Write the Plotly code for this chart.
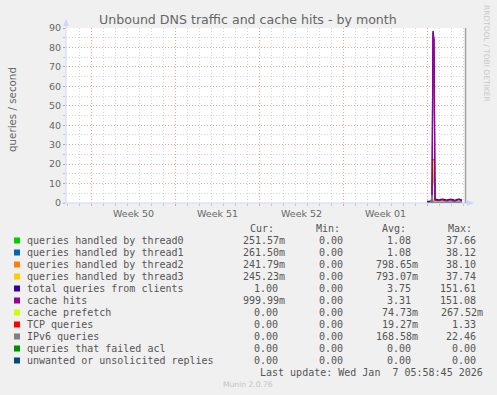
import plotly.graph_objects as go
import pandas as pd

# ---------------- data ----------------
TITLE = "Unbound DNS traffic and cache hits - by month"
Y_TITLE = "queries / second"

# 2-hour consolidated samples (Munin monthly view), Jan 4 00:00 .. Jan 6 22:00
times = pd.date_range("2026-01-04 00:00", periods=36, freq="2h")

thread0 = [0.20, 0.18, 0.20, 0.22, 0.25, 0.35, 22.3, 21.0, 0.48, 0.50, 0.45, 0.40,
           0.38, 0.42, 0.48, 0.52, 0.50, 0.45, 0.40, 0.38, 0.38, 0.42, 0.48, 0.52,
           0.50, 0.45, 0.40, 0.38, 0.35, 0.40, 0.45, 0.50, 0.52, 0.48, 0.40, 0.38]
thread1 = [0.21, 0.19, 0.21, 0.23, 0.26, 0.36, 22.5, 21.2, 0.49, 0.52, 0.46, 0.41,
           0.39, 0.44, 0.49, 0.54, 0.52, 0.46, 0.41, 0.39, 0.39, 0.44, 0.49, 0.54,
           0.52, 0.46, 0.41, 0.39, 0.36, 0.41, 0.46, 0.52, 0.54, 0.49, 0.41, 0.39]
thread2 = [0.19, 0.17, 0.19, 0.21, 0.24, 0.34, 22.0, 20.8, 0.46, 0.48, 0.44, 0.39,
           0.37, 0.41, 0.46, 0.50, 0.48, 0.44, 0.39, 0.37, 0.37, 0.41, 0.46, 0.50,
           0.48, 0.44, 0.39, 0.37, 0.34, 0.39, 0.44, 0.48, 0.50, 0.46, 0.39, 0.37]
thread3 = [0.20, 0.17, 0.20, 0.22, 0.24, 0.35, 21.7, 20.6, 0.47, 0.50, 0.45, 0.40,
           0.37, 0.42, 0.47, 0.53, 0.50, 0.45, 0.40, 0.37, 0.37, 0.42, 0.47, 0.53,
           0.50, 0.45, 0.40, 0.37, 0.35, 0.40, 0.45, 0.50, 0.53, 0.47, 0.40, 0.37]
total_queries = [0.8, 0.7, 0.8, 0.9, 1.0, 1.4, 88.5, 84.0, 1.9, 2.0, 1.8, 1.6,
                 1.5, 1.7, 1.9, 2.1, 2.0, 1.8, 1.6, 1.5, 1.5, 1.7, 1.9, 2.1,
                 2.0, 1.8, 1.6, 1.5, 1.4, 1.6, 1.8, 2.0, 2.1, 1.9, 1.6, 1.5]
cache_hits = [0.3, 0.2, 0.3, 0.4, 0.5, 0.9, 87.6, 83.5, 1.5, 1.6, 1.4, 1.2,
              1.1, 1.3, 1.5, 1.7, 1.6, 1.4, 1.2, 1.1, 1.1, 1.3, 1.5, 1.7,
              1.6, 1.4, 1.2, 1.1, 1.0, 1.2, 1.4, 1.6, 1.7, 1.5, 1.2, 1.1]
cache_prefetch = [0.0, 0.0, 0.0, 0.0, 0.02, 0.05, 0.25, 0.08, 0.06, 0.07, 0.06, 0.05,
                  0.05, 0.06, 0.07, 0.08, 0.07, 0.06, 0.05, 0.05, 0.05, 0.06, 0.07, 0.08,
                  0.07, 0.06, 0.05, 0.05, 0.04, 0.05, 0.06, 0.07, 0.08, 0.07, 0.05, 0.05]
tcp_queries = [0.0, 0.0, 0.0, 0.0, 0.01, 0.03, 0.1, 0.02, 0.02, 0.02, 0.02, 0.02,
               0.02, 0.02, 0.02, 0.02, 0.02, 0.02, 0.02, 0.02, 0.02, 0.02, 0.02, 0.02,
               0.02, 0.02, 0.02, 0.02, 0.02, 0.02, 0.02, 0.02, 0.02, 0.02, 0.02, 0.02]
ipv6_queries = [0.0, 0.0, 0.0, 0.1, 0.5, 4.2, 1.0, 0.2, 0.15, 0.15, 0.12, 0.1,
                0.1, 0.12, 0.15, 0.18, 0.15, 0.12, 0.1, 0.1, 0.1, 0.12, 0.15, 0.18,
                0.15, 0.12, 0.1, 0.1, 0.1, 0.12, 0.15, 0.18, 0.15, 0.12, 0.1, 0.1]
failed_acl = [0.0] * 36
unwanted = [0.0] * 36

series_names = [
    "queries handled by thread0", "queries handled by thread1",
    "queries handled by thread2", "queries handled by thread3",
    "total queries from clients", "cache hits", "cache prefetch",
    "TCP queries", "IPv6 queries", "queries that failed acl",
    "unwanted or unsolicited replies",
]
series_values = [thread0, thread1, thread2, thread3, total_queries, cache_hits,
                 cache_prefetch, tcp_queries, ipv6_queries, failed_acl, unwanted]
series_colors = ["#00CC00", "#0066B3", "#FF8000", "#FFCC00", "#330099", "#990099",
                 "#CCFF00", "#FF0000", "#808080", "#008F00", "#00487D"]

cur_vals = ["251.57m", "261.50m", "241.79m", "245.23m", "1.00", "999.99m", "0.00",
            "0.00", "0.00", "0.00", "0.00"]
min_vals = ["0.00"] * 11
avg_vals = ["1.08", "1.08", "798.65m", "793.07m", "3.75", "3.31", "74.73m",
            "19.27m", "168.58m", "0.00", "0.00"]
max_vals = ["37.66", "38.12", "38.10", "37.74", "151.61", "151.08", "267.52m",
            "1.33", "22.46", "0.00", "0.00"]

week_starts = ["2025-12-07", "2025-12-14", "2025-12-21", "2025-12-28", "2026-01-04"]
week_label_pos = ["2025-12-10 12:00", "2025-12-17 12:00", "2025-12-24 12:00", "2025-12-31 12:00"]
week_labels = ["Week 50", "Week 51", "Week 52", "Week 01"]
x_range = ["2025-12-04 22:00", "2026-01-07 04:00"]
y_ticks = list(range(0, 91, 10))

LAST_UPDATE = "Last update: Wed Jan  7 05:58:45 2026"
FOOTER = "Munin 2.0.76"
SIDE = "RRDTOOL / TOBI OETIKER"

# ---------------- layout geometry ----------------
W, H = 497, 395
L, R, T, B = 66, 32, 28, 192
PW, PH = W - L - R, H - T - B
FONT = "DejaVu Sans"
MONO = "DejaVu Sans Mono"
TXT = "#666666"
AXIS = "#CFD6F8"


def px(x):
    return (x - L) / PW


def py(y):
    return (H - B - y) / PH


def ann(text, x, y, xanchor="left", size=10, color=TXT, family=FONT, **kw):
    return dict(text=text, x=px(x), y=py(y), xref="paper", yref="paper",
                xanchor=xanchor, yanchor="middle", showarrow=False, borderpad=0,
                font=dict(size=size, color=color, family=family), **kw)


fig = go.Figure()
for name, vals, col in zip(series_names, series_values, series_colors):
    fig.add_trace(go.Scatter(x=times, y=vals, mode="lines", name=name,
                             line=dict(color=col, width=1.3), showlegend=False))

annotations = []
shapes = []

# title, axis title, side text
annotations.append(ann(TITLE, 248, 19, "center", 12.6))
annotations.append(ann(Y_TITLE, 12, 110, "center", 10.3, textangle=-90))
annotations.append(ann(SIDE, 487, 53, "center", 7.5, color="#C8C8C8", textangle=90))

# week labels (positioned on the time axis)
for pos, lab in zip(week_label_pos, week_labels):
    annotations.append(dict(text=lab, x=pos, y=py(213), xref="x", yref="paper",
                            xanchor="center", yanchor="middle", showarrow=False,
                            borderpad=0, font=dict(size=9.5, color=TXT, family=FONT)))

# legend table
LEG = "#555555"
annotations.append(ann("Cur:", 249, 228, "left", 10, LEG, MONO))
annotations.append(ann("Min:", 315, 228, "left", 10, LEG, MONO))
annotations.append(ann("Avg:", 381, 228, "left", 10, LEG, MONO))
annotations.append(ann("Max:", 447, 228, "left", 10, LEG, MONO))
col_right = [285.5, 350.5, 418.5, 483.5]
for i, (name, col) in enumerate(zip(series_names, series_colors)):
    yy = 240 + 12 * i
    shapes.append(dict(type="rect", xref="paper", yref="paper",
                       x0=px(14), x1=px(20), y0=py(yy + 3.5), y1=py(yy - 2.5),
                       fillcolor=col, line=dict(width=0)))
    annotations.append(ann(name, 25.5, yy, "left", 10, LEG, MONO))
    for cr, vals in zip(col_right, [cur_vals, min_vals, avg_vals, max_vals]):
        v = vals[i]
        xr = cr if v.endswith("m") else cr - 6.02
        annotations.append(ann(v, xr, yy, "right", 10, LEG, MONO))
annotations.append(ann(LAST_UPDATE, 483.5, 372, "right", 10, LEG, MONO))
annotations.append(ann(FOOTER, 248, 384, "center", 7.6, color="#C4C4C4"))

# axis lines with arrows, right border line
shapes.append(dict(type="line", xref="paper", yref="paper", x0=px(66), x1=px(66),
                   y0=py(203), y1=py(22), line=dict(color=AXIS, width=1)))
shapes.append(dict(type="path", xref="paper", yref="paper",
                   path=f"M {px(63)},{py(26)} L {px(69)},{py(26)} L {px(66)},{py(19)} Z",
                   fillcolor=AXIS, line=dict(width=0)))
shapes.append(dict(type="line", xref="paper", yref="paper", x0=px(62), x1=px(469),
                   y0=py(203), y1=py(203), line=dict(color=AXIS, width=1)))
shapes.append(dict(type="path", xref="paper", yref="paper",
                   path=f"M {px(467)},{py(200)} L {px(467)},{py(206)} L {px(474)},{py(203)} Z",
                   fillcolor=AXIS, line=dict(width=0)))
shapes.append(dict(type="line", xref="paper", yref="paper", x0=px(465.5), x1=px(465.5),
                   y0=py(203), y1=py(28), line=dict(color="#A0A0A0", width=1.5)))

MGRID = "rgba(255,128,128,0.65)"
GRID = "rgba(180,180,180,0.55)"

fig.update_layout(
    width=W, height=H,
    margin=dict(l=L, r=R, t=T, b=B, autoexpand=False),
    paper_bgcolor="#F0F0F0", plot_bgcolor="#FFFFFF",
    showlegend=False,
    annotations=annotations, shapes=shapes,
    xaxis=dict(type="date", range=x_range, tickmode="array", tickvals=week_starts,
               ticktext=[""] * len(week_starts), showgrid=True, gridcolor=MGRID,
               griddash="1px,2px", gridwidth=1, zeroline=False, showline=False,
               ticks="outside", ticklen=2, tickcolor=MGRID,
               minor=dict(tickmode="linear", tick0="2025-12-07", dtick=86400000,
                          showgrid=True, gridcolor=GRID, griddash="1px,2px",
                          ticks="outside", ticklen=2, tickcolor="#C8C8C8"),
               fixedrange=True),
    yaxis=dict(range=[0, 90], tickmode="array", tickvals=y_ticks,
               ticktext=[str(v) for v in y_ticks], showgrid=True, gridcolor=MGRID,
               griddash="1px,2px", zeroline=False, showline=False,
               ticks="outside", ticklen=2, tickcolor="#AAAAAA",
               tickfont=dict(family=FONT, size=9.5, color=TXT),
               minor=dict(tickmode="linear", tick0=0, dtick=5, showgrid=True,
                          gridcolor=GRID, griddash="1px,2px",
                          ticks="outside", ticklen=2, tickcolor="#C8C8C8"),
               fixedrange=True),
)

fig.write_html(
    "out.html",
    config={"displayModeBar": False, "staticPlot": True},
    post_script="document.body.style.margin='0';document.body.style.background='#F0F0F0';",
)
